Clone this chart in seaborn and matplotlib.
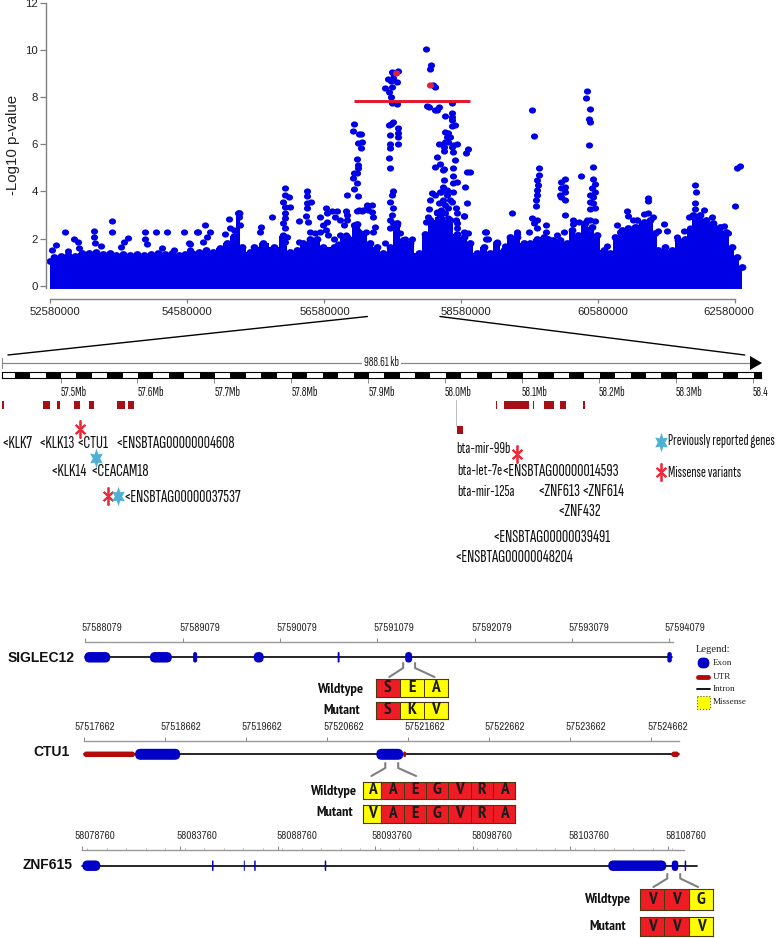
# Association plot with the zoomed gene region and three gene models below it
import numpy as np
import pandas as pd
import matplotlib
matplotlib.use("Agg")
import matplotlib.pyplot as plt
import seaborn as sns
from matplotlib.colors import ListedColormap
from matplotlib.markers import MarkerStyle
from matplotlib.patches import FancyBboxPatch, Rectangle
from matplotlib.transforms import Affine2D, ScaledTranslation
from matplotlib.ticker import MultipleLocator

W, H = 778, 938
BLUE = "#0000E6"
EXON = "#0000C8"
DARKRED = "#A50F15"
UTR = "#B40A0A"
RED = "#EE1C25"
YELLOW = "#FFFF00"
STAR_RED = "#EE2A3A"
STAR_BLUE = "#4FB0D6"
TIGHT = ["Sofia Sans Extra Condensed", "Fira Sans Extra Condensed", "Liberation Sans"]
NARROW = ["Archivo Narrow", "PT Sans Narrow", "Liberation Sans"]
NARROW_BOLD = ["PT Sans Narrow", "Liberation Sans"]
SANS = ["Liberation Sans", "DejaVu Sans"]
SERIF = ["Liberation Serif", "DejaVu Serif"]

# ---- manhattan plot, positions read against a 69 px per Mb grid (corrected where drawn)
# top of the solid mass
mass_pos = [52.58, 52.65, 52.75, 52.85, 52.95, 53.05, 53.15, 53.25, 53.35, 53.45, 53.55, 53.65, 53.75, 53.85,
            53.95, 54.05, 54.15, 54.25, 54.35, 54.45, 54.55, 54.65, 54.75, 54.85, 54.95, 55.05, 55.15, 55.25,
            55.32, 55.37, 55.49, 55.54, 55.68, 55.83, 55.97, 56.07, 56.17, 56.26, 56.35, 56.45, 56.55, 56.7,
            56.89, 57.03, 57.13, 57.23, 57.32, 57.42, 57.51, 57.61, 57.71, 57.8, 57.93, 58.02, 58.1, 58.24,
            58.38, 58.48, 58.58, 58.67, 58.77, 58.87, 58.96, 59.06, 59.16, 59.25, 59.35, 59.45, 59.54, 59.64,
            59.74, 59.81, 59.88, 59.98, 60.08, 60.15, 60.24, 60.34, 60.44, 60.51, 60.61, 60.7, 60.78, 60.87,
            60.97, 61.07, 61.19, 61.28, 61.36, 61.4, 61.5, 61.6, 61.69, 61.79, 61.86, 61.91, 62.01, 62.1,
            62.2, 62.3, 62.39, 62.47, 62.54, 62.61]
mass_top = [1.05, 1.2, 1.25, 1.3, 1.25, 1.4, 1.4, 1.45, 1.35, 1.4, 1.3, 1.35, 1.3, 1.35,
            1.3, 1.35, 1.4, 1.35, 1.4, 1.3, 1.35, 1.4, 1.45, 1.5, 1.44, 1.6, 1.8, 2.1,
            3.1, 1.65, 1.44, 1.65, 1.8, 1.65, 2.1, 1.44, 1.5, 1.8, 2.0, 2.0, 1.65, 1.65,
            2.08, 2.6, 2.2, 1.8, 1.66, 1.4, 1.66, 2.65, 1.93, 1.8, 1.4, 2.2, 2.8, 2.9,
            2.8, 2.2, 2.07, 1.8, 1.4, 1.66, 1.4, 1.8, 1.5, 2.08, 2.08, 1.8, 1.8, 2.0,
            2.08, 2.0, 1.94, 1.94, 1.8, 2.36, 2.15, 2.65, 2.5, 2.15, 1.5, 1.37, 2.08, 2.36,
            2.43, 2.5, 2.72, 2.79, 2.22, 1.5, 1.65, 1.5, 1.94, 2.0, 2.36, 3.0, 3.0, 2.79,
            2.65, 2.5, 2.29, 1.65, 1.23, 0.8]

# separate points above the mass, by stretch of the chromosome
left_pos = [52.61, 52.67, 52.81, 52.94, 53.0, 53.01, 52.85, 53.23, 53.23, 53.24, 53.32, 53.49, 53.49, 53.62, 53.66,
            53.72, 53.96, 53.96, 53.99, 54.13, 54.29, 54.21, 54.38, 54.53, 54.72, 54.6, 54.62]
left_val = [1.52, 1.73, 2.27, 1.98, 1.85, 1.58, 1.47, 2.31, 2.05, 1.8, 1.7, 2.73, 2.27, 1.65, 1.87,
            2.04, 2.29, 1.97, 1.76, 2.29, 2.29, 1.6, 1.53, 2.29, 2.29, 1.8, 1.5]
mid_pos = [54.62, 54.73, 54.84, 54.91, 54.86, 54.81, 55.18, 55.2, 55.13, 55.31, 55.33, 55.34, 55.25,
           55.64, 55.63, 55.8, 55.99, 55.99, 56.05, 55.96, 56.07, 56.0, 56.0, 56.0, 55.96, 56.0, 55.97, 56.02, 56.0,
           56.2, 56.2, 56.31, 56.31, 56.37, 56.31, 56.31, 56.3, 56.33, 56.36, 56.43,
           56.5, 56.59, 56.6, 56.67, 56.75, 56.72, 56.79, 56.88, 56.89, 56.89, 56.85, 56.6, 56.55, 56.5, 56.58,
           56.62, 56.7, 56.76, 56.79, 56.87]
mid_val = [1.76, 2.28, 2.56, 2.29, 2.08, 1.87, 2.85, 2.46, 2.18, 3.07, 2.93, 2.58, 2.36,
           2.48, 2.29, 2.93, 4.13, 3.85, 3.78, 3.57, 3.35, 3.35, 3.07, 2.86, 2.68, 2.44, 2.16, 2.08, 1.87,
           2.73, 1.85, 4.0, 3.8, 3.57, 3.5, 3.3, 2.97, 2.72, 2.3, 2.25,
           2.9, 3.28, 3.07, 3.18, 3.18, 2.9, 2.81, 3.15, 3.0, 2.81, 2.57, 2.72, 2.58, 2.3, 2.36,
           2.15, 2.0, 1.77, 2.15, 2.15]
peak_a_pos = [57.0, 56.98, 57.07, 57.1, 57.05, 57.11, 57.09, 57.03, 57.05, 57.05, 56.99, 57.03, 56.98, 57.03, 56.99,
              56.89, 57.05, 57.03, 57.11, 57.18, 57.18, 56.99, 57.03, 57.16,
              57.06, 57.13, 57.2, 57.25, 57.25, 57.27, 57.3, 57.27, 57.0, 57.06, 57.44]
peak_a_val = [6.86, 6.58, 6.44, 6.44, 6.04, 6.11, 5.83, 5.36, 5.12, 4.98, 4.77, 4.77, 4.56, 4.37, 4.09,
              3.85, 3.8, 3.15, 3.15, 3.28, 3.43, 2.57, 2.36, 2.29,
              3.2, 3.2, 3.2, 3.43, 3.14, 2.93, 2.5, 2.3, 2.58, 2.3, 1.82]
peak_b_pos = [57.54, 57.63, 57.56, 57.49, 57.56, 57.53, 57.61, 57.44, 57.54, 57.5, 57.53, 57.55, 57.61,
              57.56, 57.53, 57.5, 57.63, 57.63, 57.63, 57.52, 57.52, 57.52, 57.63, 57.5, 57.52,
              57.56, 57.54, 57.51, 57.56, 57.54, 57.51, 57.56, 57.51, 57.61, 57.66, 57.73, 57.83]
peak_b_val = [9.08, 9.12, 9.01, 8.77, 8.8, 8.7, 8.66, 8.4, 8.42, 8.23, 8.02, 7.74, 7.71,
              6.96, 6.85, 6.82, 6.68, 6.49, 6.32, 6.38, 6.01, 5.83, 6.0, 5.4, 4.98,
              4.03, 3.85, 3.57, 3.28, 3.0, 2.79, 2.65, 2.43, 2.58, 2.22, 2.0, 2.0]
peak_c_pos = [58.04, 58.11, 58.09, 58.16, 58.14, 58.05, 58.08, 58.19, 58.22, 58.17, 58.42, 58.31, 58.42, 58.42, 58.42,
              58.41, 58.46, 58.31, 58.36, 58.34, 58.38, 58.31, 58.36, 58.22, 58.3, 58.3, 58.43, 58.48, 58.41, 58.43,
              58.64, 58.62, 58.2, 58.46, 58.24, 58.16, 58.3, 58.43,
              58.29, 58.43, 58.63, 58.67, 58.3, 58.48, 58.43, 58.29, 58.6, 58.34, 58.43, 58.24, 58.12,
              58.17, 58.1, 58.38, 58.42, 58.63, 58.58, 58.08, 58.47, 58.48, 58.58, 58.2, 58.24, 58.07, 58.04, 58.36,
              58.47, 58.49, 58.48, 58.59, 58.65,
              58.26, 58.34, 58.29, 58.22, 58.31, 58.26, 58.36, 58.19, 58.31]
peak_c_val = [10.04, 9.36, 9.2, 8.45, 8.52, 7.63, 7.6, 7.46, 7.6, 7.46, 7.74, 7.2, 7.34, 7.17, 7.03,
              6.78, 6.82, 6.54, 6.47, 6.3, 6.32, 6.11, 6.11, 6.01, 5.9, 5.73, 5.97, 6.0, 5.87, 5.66,
              5.79, 5.62, 5.45, 5.33, 5.16, 5.05, 4.94, 4.98,
              4.91, 4.65, 4.84, 4.84, 4.48, 4.41, 4.34, 4.2, 4.17, 4.06, 3.99, 3.99, 3.92,
              3.85, 3.64, 3.64, 3.54, 3.5, 2.96, 3.24, 3.28, 3.1, 2.96, 3.07, 3.0, 2.93, 2.72, 2.86,
              2.79, 2.65, 2.43, 2.3, 2.22,
              3.99, 3.85, 3.64, 3.5, 3.42, 3.21, 3.28, 3.14, 3.07]
after_c_pos = [58.89, 58.93, 59.05, 59.29, 59.18, 59.3, 59.35, 58.91, 58.91, 59.06]
after_c_val = [2.3, 2.0, 1.82, 3.07, 1.7, 1.93, 2.2, 2.29, 2.0, 1.87]
peak_d_pos = [59.58, 59.6, 59.68, 59.67, 59.64, 59.66, 59.65, 59.64, 59.63, 59.63, 59.58, 59.64, 59.6, 59.64,
              59.53, 59.36, 59.77, 59.77]
peak_d_val = [7.45, 6.34, 4.99, 4.71, 4.48, 4.27, 4.06, 3.85, 3.63, 3.38, 2.86, 2.79, 2.65, 2.43,
              2.29, 2.29, 2.57, 2.29]
peak_e_pos = [60.05, 59.99, 60.05, 59.99, 60.05, 59.98, 60.05, 60.0, 60.05, 60.16, 60.16, 60.25, 60.03, 59.93]
peak_e_val = [4.55, 4.41, 4.2, 4.13, 3.99, 3.85, 3.63, 3.78, 3.0, 2.79, 2.62, 2.72, 2.29, 2.15]
peak_f_pos = [60.37, 60.35, 60.41, 60.4, 60.42, 60.4, 60.45, 60.29, 60.45, 60.49, 60.44, 60.49, 60.41, 60.46,
              60.41, 60.46, 60.42, 60.49, 60.37, 60.41, 60.48, 60.66]
peak_f_val = [8.27, 7.98, 7.52, 7.07, 6.96, 5.97, 5.05, 4.65, 4.55, 4.3, 4.13, 3.99, 3.85, 3.78,
              3.56, 3.49, 3.24, 3.31, 2.79, 2.79, 2.74, 1.7]
tail_pos = [60.8, 60.95, 60.97, 61.04, 61.09, 61.09, 60.85, 61.94, 61.95, 61.94, 61.93, 62.06, 61.25, 61.26, 61.49,
            61.4, 61.53, 61.77, 61.2, 61.26, 61.33, 61.09, 62.51, 62.55, 62.59, 61.85, 61.86, 61.68, 62.18, 62.35, 62.42]
tail_val = [2.57, 3.18, 2.96, 2.79, 2.81, 2.5, 2.29, 4.29, 3.96, 3.52, 3.24, 3.21, 3.71, 3.59, 2.62,
            2.32, 2.32, 2.32, 3.04, 3.1, 2.93, 2.79, 3.37, 4.98, 5.08, 2.93, 2.43, 2.05, 2.93, 2.53, 2.22]
hit_pos = [57.6, 58.09]
hit_val = [9.01, 8.54]
threshold = 7.85
threshold_span = [57.0, 58.67]
manhattan_ticks = [52580000, 54580000, 56580000, 58580000, 60580000, 62580000]
manhattan_shift = [5, 0, 1, 5, 5.4, -6]
yticks = [0, 2, 4, 6, 8, 10, 12]

# ---- zoomed map, Mb
map_ticks = [57.5, 57.6, 57.7, 57.8, 57.9, 58.0, 58.1, 58.2, 58.3, 58.4]
map_labels = ["57.5Mb", "57.6Mb", "57.7Mb", "57.8Mb", "57.9Mb", "58.0Mb", "58.1Mb", "58.2Mb", "58.3Mb", "58.4"]
block_start = [57.424, 57.477, 57.495, 57.517, 57.537, 57.574, 57.588,
               58.066, 58.077, 58.114, 58.129, 58.150, 58.179]
block_end = [57.426, 57.486, 57.499, 57.525, 57.543, 57.584, 57.595,
             58.068, 58.109, 58.116, 58.141, 58.157, 58.182]
mir_span = [58.015, 58.023]

# ---- gene models, base pairs
sig_ticks = [57588079, 57589079, 57590079, 57591079, 57592079, 57593079, 57594079]
sig_exon_start = [57588069, 57588742, 57589186, 57589809, 57590671, 57591365, 57594059]
sig_exon_end = [57588334, 57588967, 57589227, 57589911, 57590691, 57591436, 57594105]
ctu_ticks = [57517662, 57518662, 57519662, 57520662, 57521662, 57522662, 57523662, 57524662]
ctu_exon_start = [57518288, 57521269]
ctu_exon_end = [57518846, 57521601]
ctu_utr_start = [57517650, 57521601, 57524913]
ctu_utr_end = [57518288, 57521637, 57525010]
znf_ticks = [58078760, 58083760, 58088760, 58093760, 58098760, 58103760, 58108760]
znf_exon_start = [58078760, 58085401, 58087030, 58087564, 58091178, 58105707, 58108964, 58109626]
znf_exon_end = [58079676, 58085478, 58087081, 58087640, 58091255, 58108684, 58109295, 58109702]

# ---- residues, 1 marks the yellow missense cells
sig_wild = ["S", "E", "A"]
sig_mut = ["S", "K", "V"]
sig_flag = [0, 1, 1]
ctu_tail = ["A", "E", "G", "V", "R", "A"]
znf_wild = ["V", "V", "G"]
znf_mut = ["V", "V", "V"]
znf_flag = [0, 0, 1]

sns.set_theme(style="white")
plt.rcParams["font.family"] = SANS
fig = plt.figure(figsize=(W / 100, H / 100), dpi=100, facecolor="white")

XF = 0.993  # lower panels were measured on a crop slightly wider than 2x


def px_axes(x0, y0, x1, y1, xf=XF, **kw):
    # axes from a box in picture pixels, y counted from the top
    return fig.add_axes([x0 * xf / W, 1 - y1 / H, (x1 - x0) * xf / W, (y1 - y0) / H], **kw)


def shift_labels(ax, shifts):
    for lab, dx in zip(ax.get_xticklabels(), shifts):
        lab.set_transform(lab.get_transform() + ScaledTranslation(dx / 100, 0, fig.dpi_scale_trans))


def true_mb(values):
    return 52.58 + (np.array(values, dtype=float) - 52.58) * 69 / 68.55


# overlay for the free text, stars and connector lines
ov = px_axes(0, 0, W, H, zorder=5)
ov.set_xlim(0, W)
ov.set_ylim(H, 0)
ov.axis("off")
ov.patch.set_alpha(0)

# ---------- manhattan
dot = MarkerStyle("o", transform=Affine2D().scale(1.15, 1))
ax = px_axes(46, 3, 760, 299, xf=1)
ax.set_xlim(52.58 - 3.5 / 68.55, 52.58 + (760 - 49.5) / 68.55)
ax.set_ylim(-13.3 / 23.57, 282.7 / 23.57)
ax.fill_between(true_mb(mass_pos), -0.14, mass_top, step="mid", color=BLUE, lw=0)
all_pos = left_pos + mid_pos + peak_a_pos + peak_b_pos + peak_c_pos + after_c_pos + peak_d_pos + peak_e_pos + peak_f_pos + tail_pos
all_val = left_val + mid_val + peak_a_val + peak_b_val + peak_c_val + after_c_val + peak_d_val + peak_e_val + peak_f_val + tail_val
mass = pd.DataFrame({"pos": true_mb(mass_pos), "val": mass_top})
snps = pd.DataFrame({"pos": true_mb(all_pos), "val": all_val})
sns.scatterplot(data=mass, x="pos", y="val", color=BLUE, s=24, marker=dot, linewidth=0, ax=ax, legend=False)
sns.scatterplot(data=snps, x="pos", y="val", color=BLUE, s=20, marker=dot, linewidth=0, ax=ax, legend=False)
ax.hlines(threshold, *true_mb(threshold_span), color="#E5142B", lw=2.1, zorder=4)
sns.scatterplot(x=true_mb(hit_pos), y=hit_val, color="#E0203A", s=20, marker=dot, linewidth=0, ax=ax, legend=False, zorder=5)
ax.set_xlabel("")
ax.set_ylabel("")
ax.set_xticks([t / 1e6 for t in manhattan_ticks])
ax.set_xticklabels([str(t) for t in manhattan_ticks], fontsize=8.2, color="#222222")
ax.set_yticks(yticks)
ax.set_yticklabels([str(t) for t in yticks], fontsize=8.2, color="#222222")
ax.tick_params(axis="x", bottom=True, length=3, width=0.9, color="#808080", pad=3)
ax.tick_params(axis="y", left=True, length=4, width=0.9, color="#808080", pad=2)
shift_labels(ax, manhattan_shift)
for s in ["top", "right"]:
    ax.spines[s].set_visible(False)
ax.spines["left"].set_bounds(-0.1, 12)
ax.spines["bottom"].set_bounds(manhattan_ticks[0] / 1e6, manhattan_ticks[-1] / 1e6)
for s in ["left", "bottom"]:
    ax.spines[s].set_color("#808080")
    ax.spines[s].set_linewidth(1.0)
ov.text(13, 145, "-Log10 p-value", rotation=90, ha="center", va="center", fontsize=10.8, color="#222222")

# lines from the association plot to the map
ov.plot([370, 8], [316.5, 355], color="black", lw=1)
ov.plot([443, 750], [316.5, 355], color="black", lw=1)

# ---------- chromosome map
band = px_axes(2, 372, 766, 378)
band.set_xlim(57.5 + (2 - 61) / 774.44, 57.5 + (766 - 61) / 774.44)
band.set_ylim(0, 1)
band.barh(0.5, [0.02] * 25, left=np.arange(25) * 0.04003 + 57.4406, height=1, color="black", lw=0)
band.set_yticks([])
band.set_xticks(map_ticks)
band.set_xticklabels(map_labels, family=TIGHT, fontsize=9.6, ha="left", color="#222222")
band.tick_params(axis="x", bottom=True, length=3.5, width=0.6, color="#777777", pad=2)
for s in band.spines.values():
    s.set_color("black")
    s.set_linewidth(0.8)

ov.plot([2, 755], [363, 363], color="#888888", lw=0.9)
ov.plot([2.5, 2.5], [358, 368], color="#888888", lw=0.8)
ov.plot([761], [363], marker=MarkerStyle(">", transform=Affine2D().scale(1.1, 1.2)), ms=8, color="black", mew=0)
ov.text(384, 362, "988.61 kb", family=TIGHT, fontsize=9.6, ha="center", va="center", color="#222222",
        bbox=dict(facecolor="white", edgecolor="none", pad=1.5))

genes = px_axes(2, 401, 766, 409)
genes.set_xlim(band.get_xlim())
genes.set_ylim(0, 1)
genes.barh(0.5, np.array(block_end) - np.array(block_start), left=block_start, height=1, color=DARKRED, lw=0)
genes.axis("off")
mir = px_axes(2, 426, 766, 434)
mir.set_xlim(band.get_xlim())
mir.set_ylim(0, 1)
mir.barh(0.5, mir_span[1] - mir_span[0], left=mir_span[0], height=1, color=DARKRED, lw=0)
mir.axis("off")
ov.plot([459, 459], [400, 426], color="#BBBBBB", lw=0.7)

# gene names on the map
for lx, ly, name in [(2, 443, "<KLK7"), (39, 443, "<KLK13"), (77, 443, "<CTU1"),
                     (116, 444, "<ENSBTAG00000004608"), (51, 471, "<KLK14"), (91, 471, "<CEACAM18"),
                     (124, 497, "<ENSBTAG00000037537"),
                     (505, 471, "<ENSBTAG00000014593"), (541, 491, "<ZNF613"),
                     (586, 491, "<ZNF614"), (561, 512, "<ZNF432"), (496, 537, "<ENSBTAG00000039491"),
                     (458, 558, "<ENSBTAG00000048204")]:
    ov.text(lx, ly, name, family=TIGHT, fontsize=12.6, ha="left", va="center", color="#111111")
for lx, ly, name in [(459, 449, "bta-mir-99b"), (460, 471, "bta-let-7e"), (460, 492, "bta-mir-125a")]:
    ov.text(lx, ly, name, family=TIGHT, fontsize=11.3, ha="left", va="center", color="#111111")
ov.text(673, 441, "Previously reported genes", family=TIGHT, fontsize=10.8, va="center", color="#111111")
ov.text(673, 473, "Missense variants", family=TIGHT, fontsize=10.8, va="center", color="#111111")

red_star = MarkerStyle((6, 2, 0), transform=Affine2D().scale(0.62, 1))
blue_star = MarkerStyle((6, 1, 0), transform=Affine2D().scale(0.75, 1))
ov.plot([81, 108.5, 521, 665.5], [429, 496, 454, 472], ls="", marker=red_star, ms=13, mew=1.3,
        color=STAR_RED)
ov.plot([97, 119, 666], [458, 496, 442], ls="", marker=blue_star, ms=14, mew=0, color=STAR_BLUE)


# ---------- gene models
def gene_model(x0, x1, scale_y, gene_y, first, ticks, per_tick_px, per_tick_bp, label_shift):
    g = px_axes(x0, scale_y, x1, gene_y + 9)
    bp_per_px = per_tick_bp / per_tick_px
    g.set_xlim(first, first + (x1 - x0) * bp_per_px)
    g.set_ylim(gene_y + 9, scale_y)
    g.patch.set_alpha(0)
    for s in ["left", "right", "bottom"]:
        g.spines[s].set_visible(False)
    g.spines["top"].set_color("#999999")
    g.spines["top"].set_linewidth(1.0)
    g.xaxis.tick_top()
    g.set_yticks([])
    g.set_xticks(ticks)
    g.set_xticklabels([str(t) for t in ticks], family=NARROW, fontsize=8, color="#333333", ha="center")
    g.tick_params(axis="x", top=True, length=3, width=0.7, color="#888888", pad=3.5)
    shift_labels(g, label_shift)
    return g, bp_per_px


def blobs(g, starts, ends, gene_y, height, color, bp_per_px):
    # rounded exon shapes, the aspect keeps the corners round in picture space
    for a, b in zip(starts, ends):
        r = min((b - a) / 2, height / 2 * bp_per_px)
        g.add_patch(FancyBboxPatch((a, gene_y - height / 2), b - a, height,
                                   boxstyle="round,pad=0,rounding_size=%f" % r,
                                   mutation_aspect=1 / bp_per_px, fc=color, ec="none", clip_on=False, zorder=3))


def residue_row(x0, y0, x1, y1, letters, flags):
    r = px_axes(x0, y0, x1, y1)
    sns.heatmap(np.array([flags]), annot=np.array([letters]), fmt="", vmin=0, vmax=1,
                cmap=ListedColormap([RED, YELLOW]), cbar=False, linewidths=0.7, linecolor="#4A3A10",
                xticklabels=False, yticklabels=False, ax=r,
                annot_kws=dict(fontsize=12.5, weight="bold", color="#1A1A1A", family=NARROW_BOLD))
    for s in r.spines.values():
        s.set_visible(True)
        s.set_color("#4A3A10")
        s.set_linewidth(0.8)


def connector(xa, xb, top, mid, bottom, xc, xd):
    ov.plot([xa, xa, xc], [top, mid, bottom], color="#808080", lw=1.5)
    ov.plot([xb, xb, xd], [top, mid, bottom], color="#808080", lw=1.5)


def side_text(x, y, text):
    ov.text(x, y, text, ha="right", va="center", fontsize=10.4, weight="bold", family=NARROW_BOLD, color="#111111")


# SIGLEC12
g, k = gene_model(86, 677.5, 642, 657.3, sig_ticks[0], sig_ticks, 98, 1000, [16, 17, 17, 17, 17, 17, 16])
g.plot([sig_ticks[0], sig_exon_end[-1]], [657.3, 657.3], color="black", lw=1.2, clip_on=False)
blobs(g, sig_exon_start, sig_exon_end, 657.3, 10.5, EXON, k)
ov.text(8, 658, "SIGLEC12", fontsize=10, weight="bold", va="center", color="#111111")
connector(406, 418, 663, 668, 677, 392, 437.5)
residue_row(378.5, 679, 451, 697, sig_wild, sig_flag)
residue_row(378.5, 702, 451, 719, sig_mut, sig_flag)
side_text(366, 689, "Wildtype")
side_text(363, 711, "Mutant")

# CTU1
g, k = gene_model(85, 684, 741, 754.3, ctu_ticks[0], ctu_ticks, 81.5, 1000, [10, 16, 16, 17, 17, 16, 16, 17])
g.plot([ctu_ticks[0], ctu_utr_end[-1]], [754.3, 754.3], color="black", lw=1.2, clip_on=False)
blobs(g, ctu_utr_start, ctu_utr_end, 754.3, 5.5, UTR, k)
blobs(g, ctu_exon_start, ctu_exon_end, 754.3, 11, EXON, k)
ov.text(34, 752, "CTU1", fontsize=10, weight="bold", va="center", color="#111111")
connector(388, 401, 763, 768, 776, 374, 419)
residue_row(365.5, 782, 384, 799, ["A"], [1])
residue_row(384, 782, 519, 799, ctu_tail, [0] * 6)
residue_row(365.5, 805, 384, 823, ["V"], [1])
residue_row(384, 805, 519, 823, ctu_tail, [0] * 6)
side_text(358.5, 791, "Wildtype")
side_text(355, 813, "Mutant")

# ZNF615
g, k = gene_model(83, 689, 850, 865.7, znf_ticks[0], znf_ticks, 98.25, 5000, [12, 17, 19, 17, 19, 19, 18])
g.xaxis.set_minor_locator(MultipleLocator(1000))
g.tick_params(axis="x", which="minor", top=True, length=1.5, width=0.5, color="#999999")
g.plot([znf_ticks[0], 58110262], [865.7, 865.7], color="black", lw=1.2, clip_on=False)
blobs(g, znf_exon_start, znf_exon_end, 865.7, 10.5, EXON, k)
ov.text(23, 865, "ZNF615", fontsize=10, weight="bold", va="center", color="#111111")
connector(672, 685, 874, 878.5, 887, 658, 703)
residue_row(644.5, 889, 718.5, 910, znf_wild, znf_flag)
residue_row(644.5, 917, 718.5, 936, znf_mut, znf_flag)
side_text(634.5, 900, "Wildtype")
side_text(630.5, 927, "Mutant")

# ---------- small key on the right
ov.text(701, 650, "Legend:", family=SERIF, fontsize=7.6, va="center", color="#222222")
ov.add_patch(FancyBboxPatch((704, 659), 9, 8, boxstyle="round,pad=0,rounding_size=4", fc=EXON, ec=EXON, lw=2))
ov.plot([703, 713], [677, 677], color=UTR, lw=3.5, solid_capstyle="round")
ov.plot([702, 715], [689, 689], color="black", lw=1.3)
ov.add_patch(Rectangle((702, 696), 13, 13, fc=YELLOW, ec="#5A5A20", lw=0.8, ls=":"))
for ky, kname in [(663, "Exon"), (677, "UTR"), (689, "Intron"), (702, "Missense")]:
    ov.text(718, ky, kname, family=SERIF, fontsize=6.6, va="center", color="#222222")

fig.savefig("out.png", dpi=100, facecolor="white")
